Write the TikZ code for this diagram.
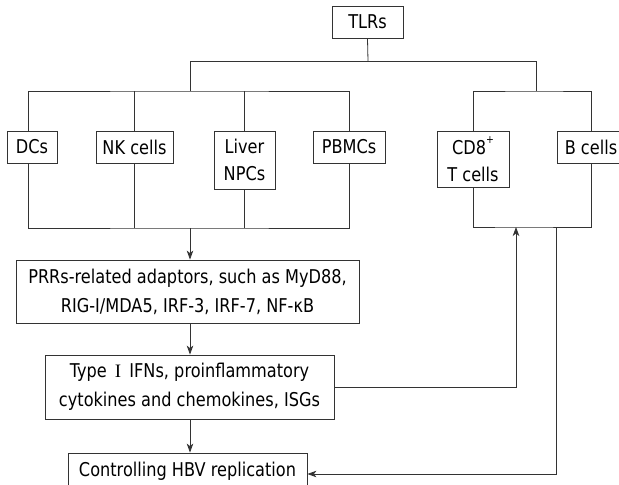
\documentclass[tikz,border=0pt]{standalone}
\usepackage{fontspec}
\setmainfont{DejaVu Sans}[FakeStretch=0.85]
\newfontfamily\serifI{Liberation Serif}
\usetikzlibrary{arrows.meta}
\newcommand{\supplus}{\raisebox{0.55em}{\fontsize{11}{11}\selectfont +}}
\begin{document}
\begin{tikzpicture}[x=1pt,y=-1pt,
  box/.style={draw=black!80, line width=0.8pt, inner sep=0pt, align=center,
    font=\fontsize{19}{27}\selectfont},
  conn/.style={draw=black!80, line width=0.8pt},
  arr/.style={conn, -{Stealth[length=9pt,width=6.5pt,inset=2.5pt]}}]
\useasboundingbox (0,0) rectangle (619,485);
% nodes
\node[box, minimum width=71, minimum height=32] (tlrs) at (367.5,22) {TLRs};
\node[box, minimum width=50, minimum height=32] (dcs) at (32,147) {DCs};
\node[box, minimum width=77, minimum height=32] (nk) at (134.5,147) {NK cells};
\node[box, minimum width=61, minimum height=58] (liver) at (244.5,160) {Liver\\NPCs};
\node[box, minimum width=72, minimum height=32] (pbmc) at (349,147) {PBMCs};
\node[box, minimum width=72, minimum height=56] (cd8) at (473,159) {CD8\supplus\\T cells};
\node[box, minimum width=68, minimum height=32] (bcells) at (591,147) {B cells};
\node[box, minimum width=343, minimum height=63, font=\fontsize{19}{29}\selectfont] (prr) at (187.5,291.5)
  {PRRs-related adaptors, such as MyD88,\\RIG-I/MDA5, IRF-3, IRF-7, NF-κB};
\node[box, minimum width=289, minimum height=64, font=\fontsize{19}{28.5}\selectfont] (ifn) at (189.5,387)
  {Type\hspace{3pt} {\serifI I}\hspace{3pt} IFNs, proinflammatory\\cytokines and chemokines, ISGs};
\node[box, minimum width=239, minimum height=36] (hbv) at (187.5,471) {Controlling HBV replication};
% bus coordinates
\coordinate (top) at (368,61);
\coordinate (topL) at (190,61);
\coordinate (topR) at (536,61);
\coordinate (midL) at (190,91);
\coordinate (midR) at (536,91);
\coordinate (botL) at (190,228);
\coordinate (botR) at (516,227);
\coordinate (botB) at (556,227);
\coordinate (turnB) at (556,474);
% top tree
\draw[conn] (tlrs.south) -- (top);
\draw[conn] (topL) -- (topR);
\draw[conn] (topL) -- (midL);
\draw[conn] (topR) -- (midR);
\draw[conn] (dcs.north) ++(-4,0) |- (midL) -| (pbmc.north);
\draw[conn] (nk.north) -- (nk.north |- midL);
\draw[conn] (liver.north) -- (liver.north |- midL);
\draw[conn] (cd8.north) |- (midR) -| (bcells.north);
% bottom bus left
\draw[conn] (dcs.south) ++(-4,0) |- (botL) -| (pbmc.south);
\draw[conn] (nk.south) -- (nk.south |- botL);
\draw[conn] (liver.south) -- (liver.south |- botL);
% bottom bus right
\draw[conn] (cd8.south) |- (botR) -| (bcells.south);
% arrows
\draw[arr] (botL) -- (botL |- prr.north);
\draw[arr] (prr.south -| botL) -- (ifn.north -| botL);
\draw[arr] (ifn.south -| botL) -- (hbv.north -| botL);
\draw[arr] (ifn.east) -| (botR);
\draw[arr] (botB) -- (turnB) -- (turnB -| hbv.east);
\end{tikzpicture}
\end{document}
